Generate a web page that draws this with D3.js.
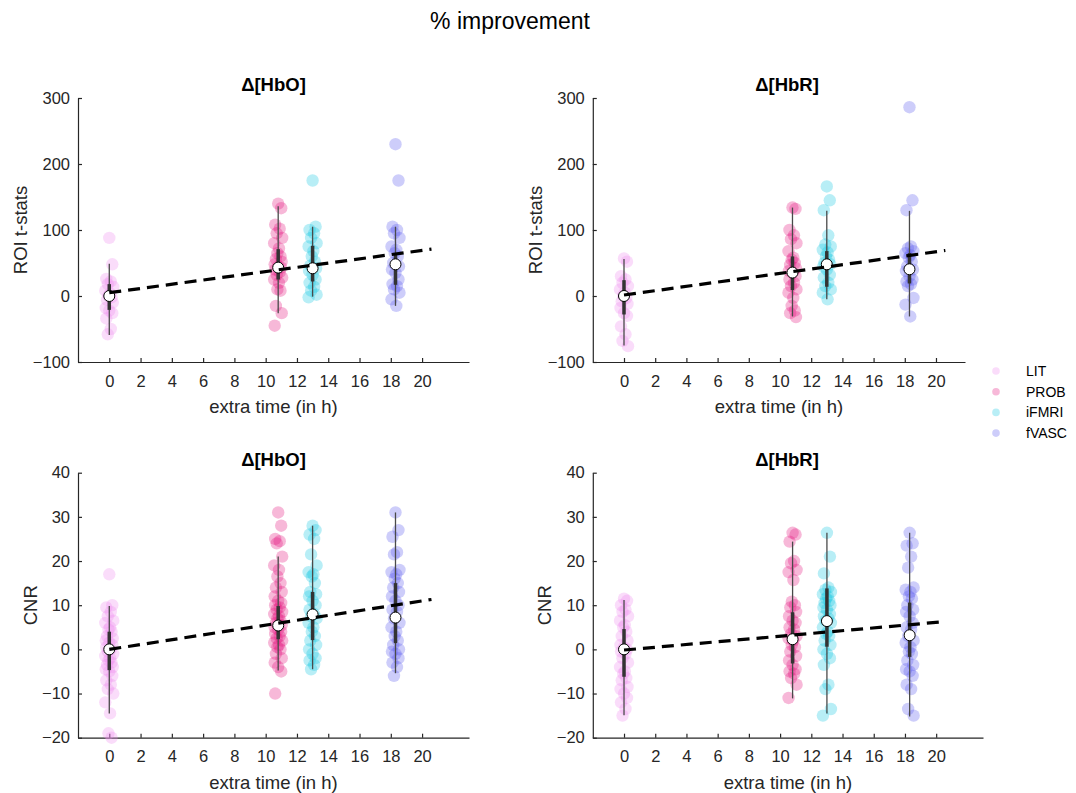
<!DOCTYPE html>
<html>
<head>
<meta charset="utf-8">
<script src="https://cdn.jsdelivr.net/npm/d3@7"></script>
<style>
  body { margin: 0; background: #fff; }
  svg { display: block; }
  text { font-family: "Liberation Sans", Arial, Helvetica, sans-serif; fill: #262626; }
</style>
</head>
<body>
<svg id="fig" width="1076" height="793"></svg>
<script>
// ---- data -------------------------------------------------------------
const groups = ["LIT", "PROB", "iFMRI", "fVASC"];
const groupHours = [0, 10.8, 13, 18.3];      // extra acquisition time per method
const trendHours = [0, 20.6];                 // span of the fitted trend line
const xTicks = [0, 2, 4, 6, 8, 10, 12, 14, 16, 18, 20];
const tstatTicks = [-100, 0, 100, 200, 300];
const cnrTicks = [-20, -10, 0, 10, 20, 30, 40];

// ROI t-stats, Δ[HbO]  (% improvement per subject)
const tstatHbO = [
  [88, 48, 26, 22, 18, 14, 8, 4, 0, -2, -6, -10, -18, -22, -26, -34, -50, -58],
  [140, 133, 108, 102, 95, 88, 80, 72, 65, 60, 56, 52, 48, 45, 43, 40, 36, 32, 28, 25, 20, 10, 8, -15, -26, -45],
  [175, 105, 100, 95, 88, 80, 75, 68, 60, 52, 46, 42, 38, 32, 25, 20, 14, 8, 2, -2],
  [230, 175, 105, 100, 95, 88, 75, 70, 65, 60, 50, 45, 40, 35, 25, 18, 15, 10, 5, -5, -15]
];
const tstatHbOMedian = [0, 43, 42, 48];
const tstatHbOIqr = [[-21, 18], [25, 71], [22, 76], [17, 65]];
const tstatHbOWhisker = [[-59, 49], [-26, 136], [-1, 105], [-15, 105]];
const tstatHbOTrend = [5, 71];

// ROI t-stats, Δ[HbR]
const tstatHbR = [
  [57, 52, 30, 25, 20, 15, 10, 5, 0, -3, -8, -12, -18, -26, -30, -46, -58, -68, -76],
  [134, 132, 100, 92, 86, 80, 68, 58, 55, 50, 47, 42, 38, 35, 30, 25, 20, 15, 10, 5, -3, -15, -22, -26, -32],
  [166, 145, 130, 92, 78, 75, 70, 66, 60, 55, 50, 48, 45, 40, 32, 28, 20, 15, 10, 5, -5],
  [286, 145, 130, 75, 72, 68, 65, 62, 58, 52, 45, 40, 38, 30, 25, 22, 18, 15, -3, -13, -31]
];
const tstatHbRMedian = [0, 35.5, 48, 40.5];
const tstatHbRIqr = [[-28, 24], [9, 60], [14, 68], [19, 65]];
const tstatHbRWhisker = [[-75, 56], [-31, 134], [-5, 129], [-31, 129]];
const tstatHbRTrend = [1.5, 69];

// CNR, Δ[HbO]
const cnrHbO = [
  [17, 10, 9.5, 8.5, 7.5, 6.5, 6, 5, 4.5, 4, 3, 2.5, 2, 1.5, 1, 0.5, 0, -0.5, -1, -1.5, -2, -2.5, -3, -3.5, -4, -4.5, -5, -6, -7, -8, -9, -10, -12, -14.5, -19, -20],
  [31, 28, 25, 24.5, 24, 21, 19, 18, 16.5, 15, 14, 13, 12, 11, 10.5, 10, 9.5, 9, 8.5, 8, 7.5, 7, 6.5, 6, 5.5, 5, 4.5, 4, 3.5, 3, 2.5, 2, 1.5, 1, 0.5, 0, -1, -2, -3, -4, -5, -10],
  [28, 27, 26, 25, 21.5, 19, 17.5, 17, 16.5, 15, 13, 12.5, 12, 11, 10, 9, 8, 7.5, 7, 6, 5, 4, 3, 2, 1, 0, -1, -2, -2.5, -3.5, -4.5],
  [31, 27, 25.5, 22, 21.5, 18, 17.5, 17, 16, 15, 14, 13, 12, 11, 10, 9, 8.5, 7, 6, 5, 4, 3, 2, 1, 0, -0.5, -1, -2, -3, -4, -6]
];
const cnrHbOMedian = [0, 5.4, 7.9, 7.2];
const cnrHbOIqr = [[-4.7, 4], [2.3, 9.8], [2.1, 13], [1.4, 15]];
const cnrHbOWhisker = [[-14.5, 9.8], [-4.8, 21], [-4.5, 28], [-5.4, 31]];
const cnrHbOTrend = [0, 11.3];

// CNR, Δ[HbR]
const cnrHbR = [
  [11.5, 11, 10, 9, 8.5, 7.5, 6.5, 5.5, 5, 4, 3, 2, 1, 0.5, 0, -0.5, -1, -2, -3, -4, -5, -5.5, -6.5, -7, -8.5, -9, -10, -11, -12, -13.5, -15],
  [26.4, 26, 24.4, 20, 19.5, 18, 17.5, 15.7, 10.8, 10, 9.5, 8.5, 7.5, 6.5, 6, 5, 4.5, 3.5, 3, 2.5, 2, 1, 0.5, -0.5, -1.5, -2.5, -3.5, -4.5, -5, -5.5, -6.5, -8, -11],
  [26.4, 21, 17.2, 14, 13.5, 13, 12.5, 12, 11.5, 11, 10.5, 10, 9.5, 9, 8, 7.5, 7, 6.5, 6, 5, 4, 3.5, 3, 2, 1, 0, -1, -2, -3.5, -8, -9, -13.5, -15],
  [26.4, 24, 23.5, 21, 18.5, 14, 13.5, 13, 12, 11.5, 10, 9, 8.5, 7.5, 6, 5, 4.5, 3, 2, 1.5, 0.5, -0.5, -1, -2.5, -3.5, -4.5, -5, -6, -8, -9, -13.5, -15]
];
const cnrHbRMedian = [0, 2.3, 6.4, 3.2];
const cnrHbRIqr = [[-6.2, 4.6], [-3.2, 8.4], [0.6, 13.8], [-1.7, 10.6]];
const cnrHbRWhisker = [[-14.9, 11.2], [-11.1, 24.4], [-14.5, 26.4], [-15.2, 26.4]];
const cnrHbRTrend = [-0.15, 6.3];

// ---- styling ------------------------------------------------------------
const groupColors = ["#f08cf0", "#e6147f", "#14c8e1", "#5a5af0"];
const dotOpacity = 0.3;
const axisColor = "#262626";
const jitter = [0, 3, -3, 1.5, -1.5, 4, -4, 0.8, -0.8, 2.3, -2.3, 3.5, -3.5];

// ---- panel layout ----------------------------------------------------------
const panels = [
  { title: "Δ[HbO]", ylabel: "ROI t-stats", yDomain: [-100, 300], yTicks: tstatTicks,
    xMax: 23, left: 78, right: 469, top: 98, bottom: 362, titleX: 273.5, ylabelX: 20,
    values: tstatHbO, median: tstatHbOMedian, iqr: tstatHbOIqr, whisker: tstatHbOWhisker, trend: tstatHbOTrend },
  { title: "Δ[HbR]", ylabel: "ROI t-stats", yDomain: [-100, 300], yTicks: tstatTicks,
    xMax: 21.86, left: 592.8, right: 965, top: 98, bottom: 362, titleX: 787, ylabelX: 535,
    values: tstatHbR, median: tstatHbRMedian, iqr: tstatHbRIqr, whisker: tstatHbRWhisker, trend: tstatHbRTrend },
  { title: "Δ[HbO]", ylabel: "CNR", yDomain: [-20, 40], yTicks: cnrTicks,
    xMax: 23, left: 78, right: 469, top: 472.7, bottom: 737.7, titleX: 273.5, ylabelX: 30,
    values: cnrHbO, median: cnrHbOMedian, iqr: cnrHbOIqr, whisker: cnrHbOWhisker, trend: cnrHbOTrend },
  { title: "Δ[HbR]", ylabel: "CNR", yDomain: [-20, 40], yTicks: cnrTicks,
    xMax: 23, left: 592.8, right: 983, top: 472.7, bottom: 737.7, titleX: 787, ylabelX: 544,
    values: cnrHbR, median: cnrHbRMedian, iqr: cnrHbRIqr, whisker: cnrHbRWhisker, trend: cnrHbRTrend }
];

const svg = d3.select("#fig");

svg.append("text")
  .attr("x", 510).attr("y", 29)
  .attr("text-anchor", "middle")
  .style("font-size", "23px")
  .style("fill", "#000")
  .text("% improvement");

panels.forEach(p => {
  const x = d3.scaleLinear().domain([-2, p.xMax]).range([p.left, p.right]);
  const y = d3.scaleLinear().domain(p.yDomain).range([p.bottom, p.top]);
  const g = svg.append("g");

  // axes (ticks point inward, no box)
  const xa = g.append("g").attr("transform", `translate(0,${p.bottom})`)
    .call(d3.axisBottom(x).tickValues(xTicks).tickSizeInner(-4).tickSizeOuter(0).tickPadding(13));
  const ya = g.append("g").attr("transform", `translate(${p.left},0)`)
    .call(d3.axisLeft(y).tickValues(p.yTicks).tickSizeInner(-4).tickSizeOuter(0).tickPadding(8));
  [xa, ya].forEach(a => {
    a.select(".domain").attr("stroke", axisColor).attr("stroke-width", 1.2);
    a.selectAll(".tick line").attr("stroke", axisColor).attr("stroke-width", 1.2);
    a.selectAll(".tick text").style("font-size", "16.5px").style("fill", axisColor)
      .style("font-family", '"Liberation Sans", Arial, sans-serif');
  });

  // individual subjects
  p.values.forEach((vals, gi) => {
    g.append("g").selectAll("circle").data(vals).join("circle")
      .attr("cx", (d, i) => x(groupHours[gi]) + jitter[i % jitter.length])
      .attr("cy", d => y(d))
      .attr("r", 6.2)
      .attr("fill", groupColors[gi])
      .attr("fill-opacity", dotOpacity);
  });

  // whiskers, inter-quartile bars and medians
  groups.forEach((name, gi) => {
    const cx = x(groupHours[gi]);
    g.append("line")
      .attr("x1", cx).attr("x2", cx)
      .attr("y1", y(p.whisker[gi][0])).attr("y2", y(p.whisker[gi][1]))
      .attr("stroke", "#4a4a4a").attr("stroke-width", 1.3);
    g.append("line")
      .attr("x1", cx).attr("x2", cx)
      .attr("y1", y(p.iqr[gi][0])).attr("y2", y(p.iqr[gi][1]))
      .attr("stroke", "#333").attr("stroke-width", 3.5);
    g.append("circle")
      .attr("cx", cx).attr("cy", y(p.median[gi]))
      .attr("r", 5.5)
      .attr("fill", "#fff").attr("stroke", "#000").attr("stroke-width", 1);
  });

  // linear trend across methods
  g.append("path")
    .datum(trendHours.map((h, i) => [h, p.trend[i]]))
    .attr("d", d3.line().x(d => x(d[0])).y(d => y(d[1])))
    .attr("fill", "none")
    .attr("stroke", "#000")
    .attr("stroke-width", 3.2)
    .attr("stroke-dasharray", "12 7");

  // labels
  g.append("text")
    .attr("x", p.titleX).attr("y", p.top - 7)
    .attr("text-anchor", "middle")
    .style("font-size", "18.5px").style("font-weight", "bold").style("fill", "#000")
    .text(p.title);
  g.append("text")
    .attr("x", (p.left + p.right) / 2).attr("y", p.bottom + 51)
    .attr("text-anchor", "middle")
    .style("font-size", "18.5px")
    .text("extra time (in h)");
  g.append("text")
    .attr("transform", `translate(${p.ylabelX + 7},${(p.top + p.bottom) / 2}) rotate(-90)`)
    .attr("text-anchor", "middle")
    .style("font-size", "18.5px")
    .text(p.ylabel);
});

// legend
const legend = svg.append("g");
groups.forEach((name, gi) => {
  const ly = 371 + gi * 20.7;
  legend.append("circle")
    .attr("cx", 996).attr("cy", ly).attr("r", 3.8)
    .attr("fill", groupColors[gi]).attr("fill-opacity", dotOpacity);
  legend.append("text")
    .attr("x", 1026).attr("y", ly).attr("dy", "0.35em")
    .style("font-size", "14px").style("fill", "#000")
    .text(name);
});
</script>
</body>
</html>
